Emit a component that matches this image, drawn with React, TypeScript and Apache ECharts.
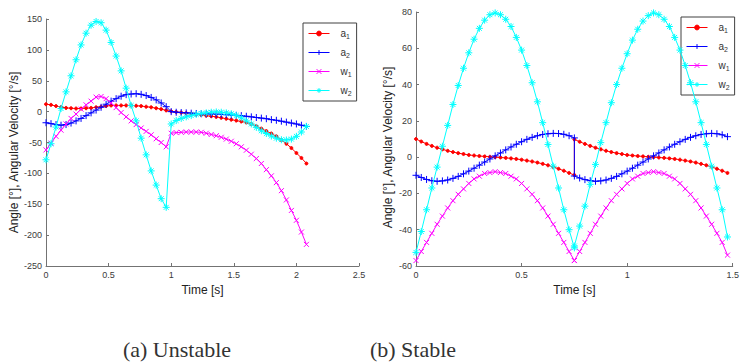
import React, { useEffect, useRef } from 'react';
import * as echarts from 'echarts';

// ---------- (a) Unstable ----------
const timeA = [0, 0.04, 0.08, 0.12, 0.16, 0.2, 0.24, 0.28, 0.32, 0.36, 0.4, 0.44, 0.48, 0.52, 0.56, 0.6, 0.64, 0.68, 0.72, 0.76, 0.8, 0.84, 0.88, 0.92, 0.96, 1, 1.04, 1.08, 1.12, 1.16, 1.2, 1.24, 1.28, 1.32, 1.36, 1.4, 1.44, 1.48, 1.52, 1.56, 1.6, 1.64, 1.68, 1.72, 1.76, 1.8, 1.84, 1.88, 1.92, 1.96, 2, 2.04, 2.08];
const a1A = [12, 11, 9, 7.5, 6, 5.5, 5, 5, 5.5, 6, 7, 8, 9, 10, 10, 10, 10, 10, 9.5, 9, 8, 7, 5.5, 4, 2, 0.5, -0.5, -1.5, -2.5, -3.5, -4.5, -5.5, -6.5, -7.5, -8.5, -10, -11.5, -13, -14.5, -16, -17.5, -20, -23.5, -27.5, -31.5, -35.5, -40, -46, -52, -59, -67, -75, -84];
const a2A = [-18, -19.5, -21, -22, -21, -18.5, -15, -11, -6.5, -2, 2.5, 7, 12, 17, 21, 25, 27.5, 28.5, 29, 28, 26, 23, 19, 14, 8, 0, -1, -1.5, -2, -2.5, -3, -3.5, -3.5, -4, -4, -4.5, -5, -5.5, -6, -6.5, -7.5, -8.5, -9.5, -10.5, -11.5, -13, -14, -15.5, -17, -18.5, -20, -22, -24];
const w1A = [-62, -51, -40, -30, -20, -11, -4, 4, 11, 17, 23.5, 24.5, 21, 14, 6.5, -1.5, -8.5, -15, -21, -26.5, -32, -37.5, -44, -50, -57, -35, -34, -33.5, -33, -33, -33, -33.5, -35, -37, -39, -41.5, -44.5, -48, -52, -57, -62.5, -69, -76, -84, -94, -104, -115, -128, -143, -160, -176, -195, -215];
const w2A = [-78, -52, -25, 5, 32, 58, 84, 108, 127, 140, 146, 144, 132, 112, 90, 66, 38, 10, -15, -43, -70, -96, -119, -141, -155, -20, -14.5, -11, -8.5, -6.5, -4.5, -3, -2, -1, -0.5, -1, -2, -3.5, -6, -10, -15, -20, -25.5, -31, -35.5, -39.5, -43, -45.5, -46, -44.5, -40, -33, -24];

// ---------- (b) Stable ----------
const timeB = [0, 0.025, 0.05, 0.075, 0.1, 0.125, 0.15, 0.175, 0.2, 0.225, 0.25, 0.275, 0.3, 0.325, 0.35, 0.375, 0.4, 0.425, 0.45, 0.475, 0.5, 0.525, 0.55, 0.575, 0.6, 0.625, 0.65, 0.675, 0.7, 0.725, 0.75,
  0.75, 0.775, 0.8, 0.825, 0.85, 0.875, 0.9, 0.925, 0.95, 0.975, 1, 1.025, 1.05, 1.075, 1.1, 1.125, 1.15, 1.175, 1.2, 1.225, 1.25, 1.275, 1.3, 1.325, 1.35, 1.375, 1.4, 1.425, 1.45, 1.475];
const a1B = [10, 8.6, 7.3, 6.2, 5.2, 4.3, 3.5, 2.8, 2.2, 1.7, 1.2, 0.9, 0.6, 0.4, 0.2, 0, -0.2, -0.4, -0.7, -1, -1.4, -1.9, -2.4, -3, -3.7, -4.5, -5.4, -6.4, -7.5, -8.7, -9.9,
  9.8, 8.5, 7.3, 6.2, 5.2, 4.3, 3.5, 2.8, 2.2, 1.7, 1.2, 0.9, 0.6, 0.4, 0.2, 0, -0.2, -0.4, -0.7, -1, -1.4, -1.9, -2.4, -3, -3.7, -4.5, -5.4, -6.4, -7.5, -8.7];
const a2B = [-10, -11.2, -12.3, -13, -13.3, -13.1, -12.6, -11.7, -10.6, -9.2, -7.7, -6.1, -4.4, -2.7, -1, 0.7, 2.3, 4, 5.6, 7.1, 8.5, 9.8, 10.9, 11.8, 12.5, 12.9, 13.1, 13, 12.6, 11.8, 10.6,
  -10.4, -11.5, -12.4, -13, -13.3, -13.1, -12.6, -11.7, -10.6, -9.2, -7.7, -6.1, -4.4, -2.7, -1, 0.7, 2.3, 4, 5.6, 7.1, 8.5, 9.8, 10.9, 11.8, 12.5, 12.9, 13.1, 12.9, 12.3, 11.3];
const w1B = [-57, -52, -47, -42, -37, -32.5, -28, -24, -20.5, -17.5, -14.5, -12, -10.5, -9, -8.5, -8, -8.5, -9, -10.5, -12, -14.5, -17.5, -20.5, -24, -28, -32.5, -37, -42, -47, -52, -57,
  -57, -52, -47, -42, -37, -32.5, -28, -24, -20.5, -17.5, -14.5, -12, -10.5, -9, -8.5, -8, -8.5, -9, -10.5, -12, -14.5, -17.5, -20.5, -24, -28, -32.5, -37, -42, -47, -54];
const w2B = [-52.5, -41, -29, -17, -5.5, 6, 17.5, 29, 39.5, 49, 57.5, 65, 71, 75.5, 78.5, 79.5, 78.5, 76, 72, 66, 59, 50.5, 41, 30.5, 19, 7, -5, -17, -29, -40, -50,
  -49, -38, -27, -15, -4, 8, 19, 30, 40, 49, 57, 64.5, 70.5, 75, 78, 79.5, 78.5, 76, 72, 66, 59, 50.5, 41, 30.5, 19, 7, -5, -17, -29, -44];

const seriesNames = ['a1', 'a2', 'w1', 'w2'];
const seriesColors = ['#ff0000', '#0000ff', '#ff00ff', '#00ffff'];
const xTicksA = { min: 0, max: 2.5, interval: 0.5 };
const yTicksA = { min: -250, max: 150, interval: 50 };
const xTicksB = { min: 0, max: 1.5, interval: 0.5 };
const yTicksB = { min: -60, max: 80, interval: 20 };
const captions = ['(a) Unstable', '(b) Stable'];
const xName = 'Time [s]';
const yName = 'Angle [°], Angular Velocity [°/s]';

const SYM_PLUS = 'path://M5,0L5,10M0,5L10,5';
const SYM_CROSS = 'path://M1,1L9,9M9,1L1,9';
const SYM_STAR = 'path://M5,0L5,10M0,5L10,5M1.5,1.5L8.5,8.5M8.5,1.5L1.5,8.5';
const symbols = ['circle', SYM_PLUS, SYM_CROSS, SYM_STAR];
const symbolSizes = [3, 7, 5, 7];

const FONT = '"Liberation Sans", Arial, sans-serif';
const AXIS_COLOR = '#737373';
const LABEL_COLOR = '#3a3a3a';

function makeSeries(gridIdx: number, t: number[], ys: number[][]) {
  return ys.map((y, k) => ({
    type: 'line',
    name: seriesNames[k],
    xAxisIndex: gridIdx,
    yAxisIndex: gridIdx,
    data: t.map((tt, i) => [tt, y[i]]),
    symbol: symbols[k],
    symbolSize: symbolSizes[k],
    showAllSymbol: true,
    lineStyle: { color: seriesColors[k], width: 1 },
    itemStyle: { color: seriesColors[k], borderColor: seriesColors[k], borderWidth: 1 },
    emphasis: { disabled: true },
    z: 2 + k,
  }));
}

function xAxis(gridIndex: number, ticks: any) {
  return {
    type: 'value', gridIndex, ...ticks,
    name: xName, nameLocation: 'middle', nameGap: 14,
    nameTextStyle: { fontFamily: FONT, fontSize: 12, color: '#222' },
    axisLine: { show: true, onZero: false, lineStyle: { color: AXIS_COLOR, width: 1 } },
    axisTick: { show: true, inside: true, length: 3, lineStyle: { color: AXIS_COLOR } },
    axisLabel: { fontFamily: FONT, fontSize: 9, color: LABEL_COLOR, margin: 4 },
    splitLine: { show: false },
  };
}
function yAxis(gridIndex: number, ticks: any, shift: number) {
  return {
    type: 'value', gridIndex, ...ticks,
    name: yName, nameLocation: 'middle', nameGap: 22, nameRotate: 90,
    nameTextStyle: { fontFamily: FONT, fontSize: 12, color: '#222', padding: [0, shift, 0, 0] },
    axisLine: { show: true, onZero: false, lineStyle: { color: AXIS_COLOR, width: 1 } },
    axisTick: { show: true, inside: true, length: 3, lineStyle: { color: AXIS_COLOR } },
    axisLabel: { fontFamily: FONT, fontSize: 9, color: LABEL_COLOR, margin: 4 },
    splitLine: { show: false },
  };
}
function legend(left: number, top: number) {
  return {
    data: seriesNames,
    orient: 'vertical', left, top,
    padding: [5.5, 5, 4, 5],
    itemGap: 7.5, itemWidth: 21, itemHeight: 6,
    borderColor: '#404040', borderWidth: 1, backgroundColor: '#ffffff',
    selectedMode: false,
    lineStyle: { width: 1 },
    itemStyle: { borderWidth: 1 },
    formatter: (n: string) => `{m|${n[0]}}{s|${n.slice(1)}}`,
    textStyle: {
      fontFamily: FONT, color: '#333', fontSize: 10, padding: [0, 0, 0, 6],
      rich: {
        m: { fontFamily: FONT, fontSize: 10, color: '#333' },
        s: { fontFamily: FONT, fontSize: 7, color: '#333', padding: [6, 0, 0, 0] },
      },
    },
  };
}

export default function App() {
  const ref = useRef<HTMLDivElement>(null);
  useEffect(() => {
    const chart = echarts.init(ref.current!, null, { renderer: 'svg' });
    chart.setOption({
      animation: false,
      backgroundColor: '#ffffff',
      grid: [
        { left: 46, top: 19, width: 313, height: 247 },
        { left: 416, top: 12, width: 323, height: 254 },
      ],
      xAxis: [xAxis(0, xTicksA), xAxis(1, xTicksB)],
      yAxis: [yAxis(0, yTicksA, 20), yAxis(1, yTicksB, 17)],
      legend: [legend(303, 23), legend(681, 17)],
      series: [
        ...makeSeries(0, timeA, [a1A, a2A, w1A, w2A]),
        ...makeSeries(1, timeB, [a1B, a2B, w1B, w2B]),
      ],
      graphic: [
        { type: 'text', x: 177, y: 349, style: { text: captions[0], font: '22px "Liberation Serif", serif', fill: '#333', align: 'center', verticalAlign: 'middle' } },
        { type: 'text', x: 413, y: 349, style: { text: captions[1], font: '22px "Liberation Serif", serif', fill: '#333', align: 'center', verticalAlign: 'middle' } },
      ],
    });
    return () => chart.dispose();
  }, []);
  return <div ref={ref} style={{ position: 'fixed', left: 0, top: 0, width: 742, height: 363, background: '#fff' }} />;
}
